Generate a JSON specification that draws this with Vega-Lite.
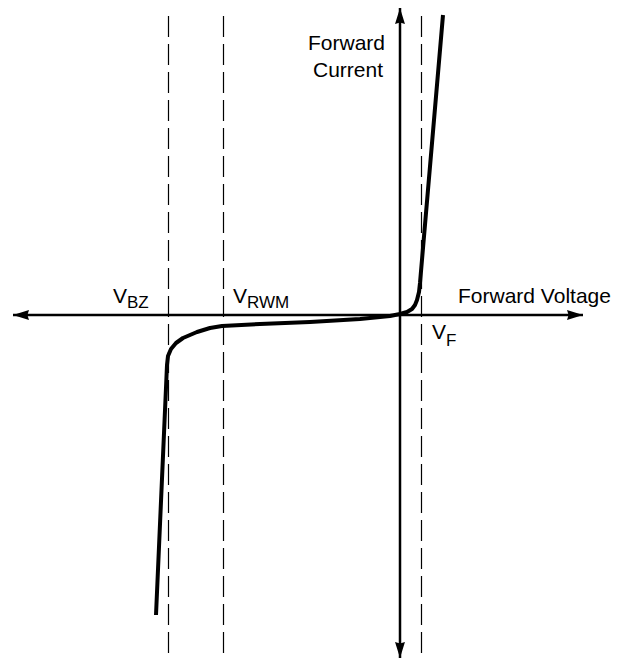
{
  "$schema": "https://vega.github.io/schema/vega-lite/v6.json",
  "autosize": {"type": "fit", "contains": "padding"},
  "width": 623,
  "height": 660,
  "padding": 0,
  "background": "white",
  "config": {"view": {"stroke": null}},
  "datasets": {
    "curve": [
      {"v": -244, "i": -300},
      {"v": -233, "i": -50},
      {"v": -232, "i": -41},
      {"v": -229, "i": -34},
      {"v": -224, "i": -28},
      {"v": -217, "i": -23},
      {"v": -210, "i": -20},
      {"v": -203, "i": -17},
      {"v": -190, "i": -13},
      {"v": -178, "i": -11},
      {"v": -140, "i": -9},
      {"v": -90, "i": -7},
      {"v": -40, "i": -4},
      {"v": -10, "i": -1},
      {"v": 0, "i": 1},
      {"v": 7, "i": 3},
      {"v": 12, "i": 6},
      {"v": 15, "i": 10},
      {"v": 17, "i": 15},
      {"v": 19, "i": 23},
      {"v": 20, "i": 32},
      {"v": 43, "i": 300}
    ],
    "axes": [
      {"name": "voltage", "v": -387, "v2": 183, "i": 0, "i2": 0},
      {"name": "current", "v": 0, "v2": 0, "i": 307, "i2": -343}
    ],
    "heads": [
      {"dir": "up", "v": 0, "i": 299},
      {"dir": "down", "v": 0, "i": -335},
      {"dir": "left", "v": -379, "i": 0},
      {"dir": "right", "v": 175, "i": 0}
    ],
    "marks": [
      {"name": "VBZ", "v": -231.5, "top": 299, "bottom": -338},
      {"name": "VRWM", "v": -176.5, "top": 299, "bottom": -338},
      {"name": "VF", "v": 21.5, "top": 299, "bottom": -338}
    ],
    "labels": [
      {"kind": "main", "label": "V", "v": -287, "i": 12},
      {"kind": "sub", "label": "BZ", "v": -273, "i": 7},
      {"kind": "main", "label": "V", "v": -167, "i": 12},
      {"kind": "sub", "label": "RWM", "v": -153, "i": 7},
      {"kind": "main", "label": "V", "v": 32, "i": -24},
      {"kind": "sub", "label": "F", "v": 46, "i": -31},
      {"kind": "main", "label": "Forward Voltage", "v": 58, "i": 12},
      {"kind": "main", "label": "Forward", "v": -92, "i": 265},
      {"kind": "main", "label": "Current", "v": -87, "i": 238}
    ]
  },
  "encoding": {
    "x": {"field": "v", "type": "quantitative", "scale": {"domain": [-400, 223], "nice": false, "zero": false}, "axis": null},
    "y": {"field": "i", "type": "quantitative", "scale": {"domain": [-345, 315], "nice": false, "zero": false}, "axis": null}
  },
  "layer": [
    {
      "data": {"name": "marks"},
      "mark": {"type": "rule", "color": "#000", "strokeWidth": 1.2, "strokeDash": [21, 7]},
      "encoding": {
        "y": {"field": "top", "type": "quantitative"},
        "y2": {"field": "bottom"}
      }
    },
    {
      "data": {"name": "axes"},
      "mark": {"type": "rule", "color": "#000", "strokeWidth": 2.5},
      "encoding": {
        "x2": {"field": "v2"},
        "y2": {"field": "i2"}
      }
    },
    {
      "data": {"name": "heads"},
      "mark": {"type": "point", "filled": true, "color": "#000", "opacity": 1, "size": 256, "strokeWidth": 0},
      "encoding": {
        "shape": {
          "field": "dir", "type": "nominal", "legend": null,
          "scale": {
            "domain": ["up", "down", "left", "right"],
            "range": [
              "M0,-1L0.62,1L0,0.8L-0.62,1Z",
              "M0,1L0.62,-1L0,-0.8L-0.62,-1Z",
              "M-1,0L1,0.62L0.8,0L1,-0.62Z",
              "M1,0L-1,0.62L-0.8,0L-1,-0.62Z"
            ]
          }
        }
      }
    },
    {
      "data": {"name": "curve"},
      "mark": {"type": "line", "color": "#000", "strokeWidth": 4, "strokeJoin": "round", "strokeCap": "butt", "interpolate": "linear"},
      "encoding": {"order": {"value": 0}}
    },
    {
      "data": {"name": "labels"},
      "transform": [{"filter": "datum.kind === 'main'"}],
      "mark": {"type": "text", "align": "left", "baseline": "alphabetic", "font": "Liberation Sans", "fontSize": 21, "color": "#000"},
      "encoding": {"text": {"field": "label"}}
    },
    {
      "data": {"name": "labels"},
      "transform": [{"filter": "datum.kind === 'sub'"}],
      "mark": {"type": "text", "align": "left", "baseline": "alphabetic", "font": "Liberation Sans", "fontSize": 17, "color": "#000"},
      "encoding": {"text": {"field": "label"}}
    }
  ]
}
